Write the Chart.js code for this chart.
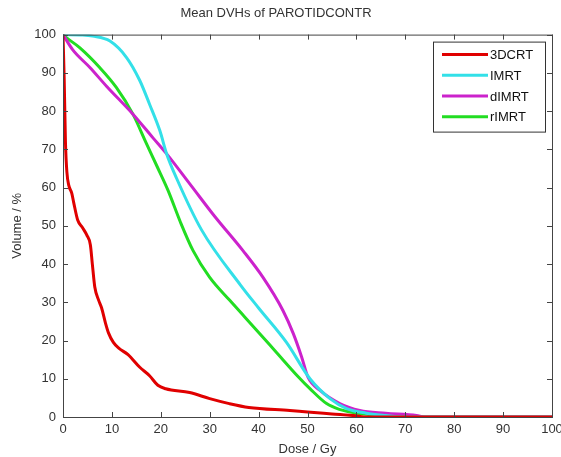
<!DOCTYPE html>
<html>
<head>
<meta charset="utf-8">
<script src="https://cdn.jsdelivr.net/npm/chart.js@4"></script>
<style>
  html, body { margin: 0; padding: 0; background: #fff; }
  #wrap { width: 561px; height: 457px; }
</style>
</head>
<body>
<div id="wrap"><canvas id="myChart" width="561" height="457"></canvas></div>
<script>
// series names
const seriesNames = ["3DCRT", "IMRT", "dIMRT", "rIMRT"];

// dose (Gy) / volume (%) pairs
const doseCRT = [0, 0.25, 0.5, 0.8, 1.2, 1.8, 2.2, 3, 4, 4.9, 5.6, 6.0, 6.5, 7.3, 7.9, 8.7, 9.3, 10.3, 11.4, 13.3, 15.7, 17.7, 19.4, 21, 25.9, 30, 34, 38, 46.4, 50, 55, 60, 62, 100];
const volCRT  = [100, 88, 72, 64, 60.5, 58.5, 56, 51.5, 49.5, 47.5, 45, 40, 34, 30.5, 28.5, 24.5, 22, 19.5, 18, 16.3, 13, 10.8, 8.3, 7.4, 6.4, 4.8, 3.5, 2.5, 1.7, 1.3, 0.8, 0.3, 0, 0];

const doseIMRT = [0, 4, 6.1, 9.6, 13, 15.7, 17.7, 19.8, 21.2, 23.2, 28.3, 36.3, 40, 45.7, 50.5, 54.6, 58, 62, 66, 70, 100];
const volIMRT  = [100, 99.9, 99.6, 98.3, 94, 88, 81.8, 74.9, 68.8, 62.5, 49, 34.5, 28.5, 19.5, 10, 4.8, 2.2, 1.0, 0.4, 0, 0];

const doseDIMRT = [0, 2, 5.5, 8.9, 14.3, 18.4, 21.2, 26.2, 31, 36.8, 40.9, 45, 47.1, 48.8, 50.1, 52.5, 56.6, 60.7, 66, 72.3, 74, 100];
const volDIMRT  = [100, 96, 91.4, 86.5, 79.2, 73, 68.8, 60.5, 52.5, 43.5, 36.5, 27.8, 21.8, 15.7, 10.4, 7.0, 3.5, 1.7, 1.0, 0.4, 0, 0];

const doseRIMRT = [0, 0.7, 3.4, 7.5, 10.9, 14.3, 17, 19.1, 21.5, 24, 26.6, 30, 34.1, 37.2, 43.3, 48.2, 50.5, 53.9, 56.5, 60.7, 65.4, 70, 100];
const volRIMRT  = [100, 99.2, 96.6, 91.4, 86.2, 79.2, 71.7, 65.9, 59.2, 51, 43.5, 36.5, 30.5, 26.1, 17.4, 10.4, 7.4, 3.5, 2.0, 0.9, 0.4, 0, 0];

const tickValues = [0, 10, 20, 30, 40, 50, 60, 70, 80, 90, 100];

const colors = ["#e00000", "#33e0e8", "#cc22cc", "#22dd22"];

function pairs(xs, ys) {
  return xs.map((x, i) => ({ x: x, y: ys[i] }));
}

const allDose = [doseCRT, doseIMRT, doseDIMRT, doseRIMRT];
const allVol = [volCRT, volIMRT, volDIMRT, volRIMRT];

const datasets = seriesNames.map((name, i) => ({
  label: name,
  data: pairs(allDose[i], allVol[i]),
  borderColor: colors[i],
  backgroundColor: colors[i],
  borderWidth: 3,
  pointRadius: 0,
  showLine: true,
  fill: false,
  tension: 0.3,
  cubicInterpolationMode: "monotone",
}));

const FONT = "'Liberation Sans', Arial, sans-serif";
const INK = "#333";

// inside ticks, box round the axes, and a legend inside the plot (matlab look)
const matlabFrame = {
  id: "matlabFrame",
  afterDraw(chart) {
    const c = chart.ctx;
    const a = chart.chartArea;
    const xs = chart.scales.x, ys = chart.scales.y;
    c.save();
    c.strokeStyle = "#444";
    c.lineWidth = 1;
    c.strokeRect(a.left + 0.5, a.top + 0.5, a.right - a.left, a.bottom - a.top);
    c.beginPath();
    tickValues.forEach(v => {
      const px = Math.round(xs.getPixelForValue(v)) + 0.5;
      c.moveTo(px, a.bottom); c.lineTo(px, a.bottom - 5);
      c.moveTo(px, a.top); c.lineTo(px, a.top + 5);
      const py = Math.round(ys.getPixelForValue(v)) + 0.5;
      c.moveTo(a.left, py); c.lineTo(a.left + 5, py);
      c.moveTo(a.right, py); c.lineTo(a.right - 5, py);
    });
    c.stroke();

    // legend
    const bx = a.right - 119, by = a.top + 7, bw = 112, bh = 90;
    c.fillStyle = "#fff";
    c.fillRect(bx, by, bw, bh);
    c.strokeStyle = "#333";
    c.strokeRect(bx + 0.5, by + 0.5, bw, bh);
    c.font = "13px " + FONT;
    c.textBaseline = "middle";
    chart.data.datasets.forEach((ds, i) => {
      const yy = by + 13 + i * 20.7;
      c.strokeStyle = ds.borderColor;
      c.lineWidth = 3;
      c.beginPath();
      c.moveTo(bx + 9, yy); c.lineTo(bx + 55, yy);
      c.stroke();
      c.fillStyle = "#111";
      c.fillText(ds.label, bx + 57, yy + 1);
    });
    c.restore();
  }
};

const ctx = document.getElementById("myChart").getContext("2d");

const dvhChart = new Chart(ctx, {
  type: "scatter",
  data: { datasets: datasets },
  options: {
    responsive: false,
    animation: false,
    layout: { padding: { left: 0, right: 9, top: 0, bottom: 0 } },
    plugins: {
      legend: { display: false },
      tooltip: { enabled: false },
      title: {
        display: true,
        text: "Mean DVHs of PAROTIDCONTR",
        color: INK,
        font: { family: FONT, size: 13, weight: "normal" },
        padding: { top: 6, bottom: 13 },
      },
    },
    scales: {
      x: {
        type: "linear",
        min: 0,
        max: 100,
        afterBuildTicks: s => { s.ticks = tickValues.map(v => ({ value: v })); },
        afterFit: s => { s.height = 40; s.paddingLeft = 0; s.paddingRight = 0; },
        grid: { display: false, drawTicks: false },
        border: { display: false },
        ticks: { color: INK, padding: 5, font: { family: FONT, size: 13 }, maxRotation: 0 },
        title: { display: true, text: "Dose / Gy", color: INK, font: { family: FONT, size: 13 }, padding: { top: 0, bottom: 0 } },
      },
      y: {
        type: "linear",
        min: 0,
        max: 100,
        afterBuildTicks: s => { s.ticks = tickValues.map(v => ({ value: v })); },
        afterFit: s => { s.width = 63; s.paddingTop = 0; s.paddingBottom = 0; },
        grid: { display: false, drawTicks: false },
        border: { display: false },
        ticks: { color: INK, padding: 7, font: { family: FONT, size: 13 } },
        title: { display: true, text: "Volume / %", color: INK, font: { family: FONT, size: 13 }, padding: { top: 10, bottom: 0 } },
      },
    },
  },
  plugins: [matlabFrame],
});
</script>
</body>
</html>
